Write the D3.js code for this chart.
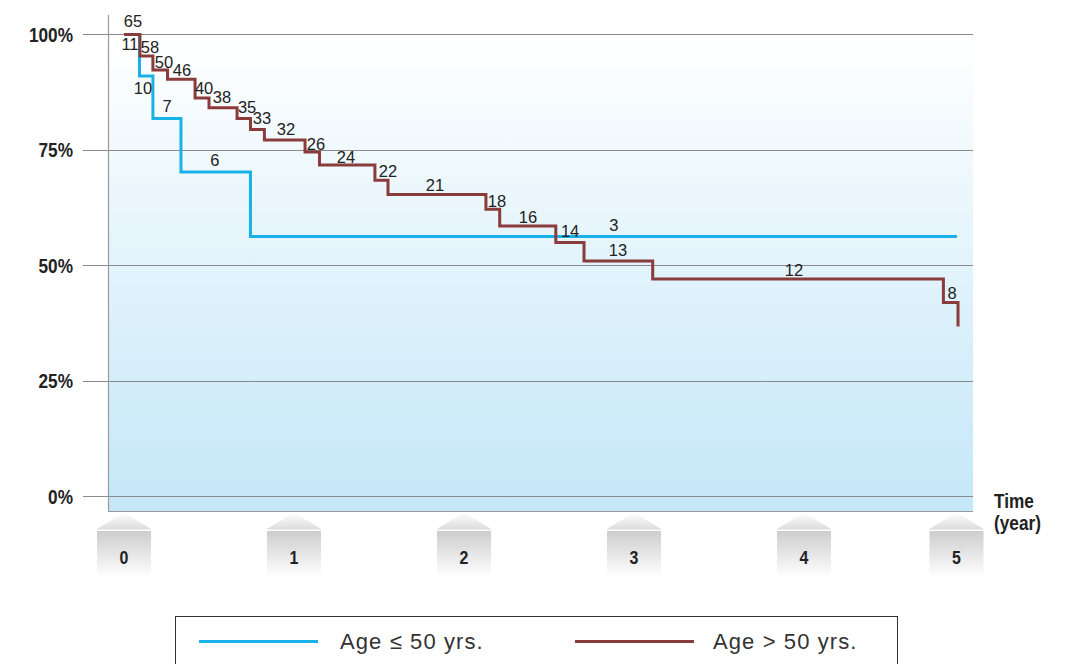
<!DOCTYPE html>
<html>
<head>
<meta charset="utf-8">
<script src="https://cdn.jsdelivr.net/npm/d3@7"></script>
<style>
  html, body { margin: 0; padding: 0; background: #ffffff; }
  svg { display: block; }
  text { font-family: "Liberation Sans", Arial, Helvetica, sans-serif; }
  .bold { font-weight: bold; }
</style>
</head>
<body>
<svg id="chart" width="1066" height="664"></svg>
<script>
// ---------- DATA ----------
const xTicks = [0, 1, 2, 3, 4, 5];
const yTicks = [0, 25, 50, 75, 100];
const yTickLabels = ["0%", "25%", "50%", "75%", "100%"];
const axisTitleLines = ["Time", "(year)"];

// Age <= 50 yrs (time in years, survival %)
const youngTime = [0, 0.091, 0.17, 0.335, 0.744, 4.9];
const youngSurv = [100, 91.0, 81.8, 70.2, 56.2, 56.2];

// Age > 50 yrs
const oldTime = [0, 0.094, 0.17, 0.256, 0.418, 0.5, 0.665, 0.744, 0.826, 1.065, 1.15, 1.476, 1.553, 2.129, 2.21, 2.54, 2.706, 3.11, 4.82, 4.906];
const oldSurv = [100, 95.3, 92.3, 90.3, 86.2, 84.1, 81.8, 79.4, 77.1, 74.5, 71.7, 68.4, 65.3, 62.1, 58.5, 54.9, 50.9, 47.0, 41.9, 36.7];

// numbers at risk (label text, anchored in data coordinates)
const oldRiskText = ["65", "58", "50", "46", "40", "38", "35", "33", "32", "26", "24", "22", "21", "18", "16", "14", "13", "12", "8"];
const oldRiskTime = [0.053, 0.153, 0.235, 0.341, 0.471, 0.576, 0.724, 0.812, 0.953, 1.129, 1.306, 1.553, 1.829, 2.194, 2.376, 2.624, 2.906, 3.941, 4.871];
const oldRiskSurv = [102.9, 97.2, 94.0, 92.3, 88.4, 86.4, 84.2, 81.9, 79.5, 76.2, 73.4, 70.4, 67.3, 63.9, 60.4, 57.4, 53.3, 48.9, 44.0];

const youngRiskText = ["11", "10", "7", "6", "3"];
const youngRiskTime = [0.035, 0.112, 0.253, 0.535, 2.882];
const youngRiskSurv = [97.9, 88.4, 84.5, 72.8, 58.7];

const seriesNames = ["Age \u2264 50 yrs.", "Age > 50 yrs."];
const seriesColors = ["#19b2e8", "#8a3b3b"];

// ---------- LAYOUT ----------
const svg = d3.select("#chart");
const plotLeft = 108, plotRight = 973, plotTop = 15, plotBottom = 511;
const condense = 0.84;
const x = d3.scaleLinear().domain([0, 5]).range([124, 974]);
const y = d3.scaleLinear().domain([0, 100]).range([496, 34.4]);

const defs = svg.append("defs");
const bg = defs.append("linearGradient").attr("id", "bgGrad").attr("x1", 0).attr("y1", 0).attr("x2", 0).attr("y2", 1);
bg.append("stop").attr("offset", "0%").attr("stop-color", "#ffffff");
bg.append("stop").attr("offset", "100%").attr("stop-color", "#c4e7f8");

const boxG = defs.append("linearGradient").attr("id", "boxGrad").attr("x1", 0).attr("y1", 0).attr("x2", 0).attr("y2", 1);
boxG.append("stop").attr("offset", "0%").attr("stop-color", "#cdcdcd");
boxG.append("stop").attr("offset", "100%").attr("stop-color", "#ffffff");

const triG = defs.append("linearGradient").attr("id", "triGrad").attr("x1", 0).attr("y1", 0).attr("x2", 0).attr("y2", 1);
triG.append("stop").attr("offset", "0%").attr("stop-color", "#ffffff");
triG.append("stop").attr("offset", "100%").attr("stop-color", "#dcdcdc");

// background
svg.append("rect")
  .attr("x", plotLeft).attr("y", y(100))
  .attr("width", plotRight - plotLeft).attr("height", plotBottom - y(100))
  .attr("fill", "url(#bgGrad)");

// gridlines
svg.append("g").selectAll("line").data(yTicks).join("line")
  .attr("x1", 83).attr("x2", plotRight)
  .attr("y1", d => Math.round(y(d)) + 0.5).attr("y2", d => Math.round(y(d)) + 0.5)
  .attr("stroke", "#8a8a8a").attr("stroke-width", 1);

// frame lines
svg.append("line").attr("x1", plotLeft + 0.5).attr("x2", plotLeft + 0.5)
  .attr("y1", plotTop).attr("y2", plotBottom).attr("stroke", "#9a9a9a").attr("stroke-width", 1.2);
svg.append("line").attr("x1", plotLeft).attr("x2", plotRight)
  .attr("y1", plotBottom + 0.5).attr("y2", plotBottom + 0.5).attr("stroke", "#999999").attr("stroke-width", 1.2);

// y tick labels (condensed bold)
const yAxis = d3.axisLeft(y).tickValues(yTicks).tickSize(0).tickFormat((d, i) => yTickLabels[i]);
const yg = svg.append("g").attr("transform", "translate(73,0)").call(yAxis);
yg.select(".domain").remove();
yg.selectAll("text")
  .attr("class", "bold")
  .attr("x", 0).attr("dy", "0.35em")
  .attr("text-anchor", "end")
  .attr("transform", `scale(${condense},1)`)
  .style("font-size", "20.5px").attr("fill", "#222");

// x tick boxes
const tickG = svg.append("g").selectAll("g").data(xTicks).join("g")
  .attr("transform", d => `translate(${Math.min(x(d), plotRight - 16.5)},0)`);
tickG.append("path")
  .attr("d", "M0,512.5 L28,529.5 L-28,529.5 Z")
  .attr("fill", "url(#triGrad)");
tickG.append("rect")
  .attr("x", -27).attr("y", 531).attr("width", 54).attr("height", 46)
  .attr("fill", "url(#boxGrad)");
tickG.append("text")
  .attr("class", "bold")
  .attr("x", 0).attr("y", 557).attr("dy", "0.35em")
  .attr("text-anchor", "middle")
  .attr("transform", `scale(${condense},1)`)
  .style("font-size", "19px").attr("fill", "#222")
  .text(d => d);

// axis title
svg.append("g").selectAll("text").data(axisTitleLines).join("text")
  .attr("class", "bold")
  .attr("x", 0).attr("y", 0).attr("dy", "0.35em")
  .attr("transform", (d, i) => `translate(994,${501 + i * 22}) scale(${condense},1)`)
  .style("font-size", "20.5px").attr("fill", "#222")
  .text(d => d);

// survival curves
const line = d3.line().curve(d3.curveStepAfter).x(d => x(d[0])).y(d => y(d[1]));
const youngPts = youngTime.map((t, i) => [t, youngSurv[i]]);
const oldPts = oldTime.map((t, i) => [t, oldSurv[i]]);

svg.append("path").attr("d", line(youngPts))
  .attr("fill", "none").attr("stroke", seriesColors[0]).attr("stroke-width", 3);
svg.append("path").attr("d", line(oldPts))
  .attr("fill", "none").attr("stroke", seriesColors[1]).attr("stroke-width", 3);

// at-risk labels
function riskLabels(texts, times, survs) {
  svg.append("g").selectAll("text").data(texts).join("text")
    .attr("x", (d, i) => x(times[i])).attr("y", (d, i) => y(survs[i]))
    .attr("dy", "0.35em").attr("text-anchor", "middle")
    .style("font-size", "16.5px").attr("fill", "#222")
    .text(d => d);
}
riskLabels(oldRiskText, oldRiskTime, oldRiskSurv);
riskLabels(youngRiskText, youngRiskTime, youngRiskSurv);

// legend
svg.append("rect").attr("x", 175.5).attr("y", 616.5).attr("width", 722).attr("height", 70)
  .attr("fill", "none").attr("stroke", "#333").attr("stroke-width", 1);
const legendItems = [0, 1];
const legendX = [199, 575];
const lg = svg.append("g").selectAll("g").data(legendItems).join("g")
  .attr("transform", d => `translate(${legendX[d]},641.5)`);
lg.append("line").attr("x1", 0).attr("x2", 119).attr("y1", 0).attr("y2", 0)
  .attr("stroke", d => seriesColors[d]).attr("stroke-width", 3);
lg.append("text").attr("x", d => d === 0 ? 141 : 138).attr("y", 0).attr("dy", "0.35em")
  .style("font-size", "22px").style("letter-spacing", "1.1px").attr("fill", "#333")
  .text(d => seriesNames[d]);
</script>
</body>
</html>
